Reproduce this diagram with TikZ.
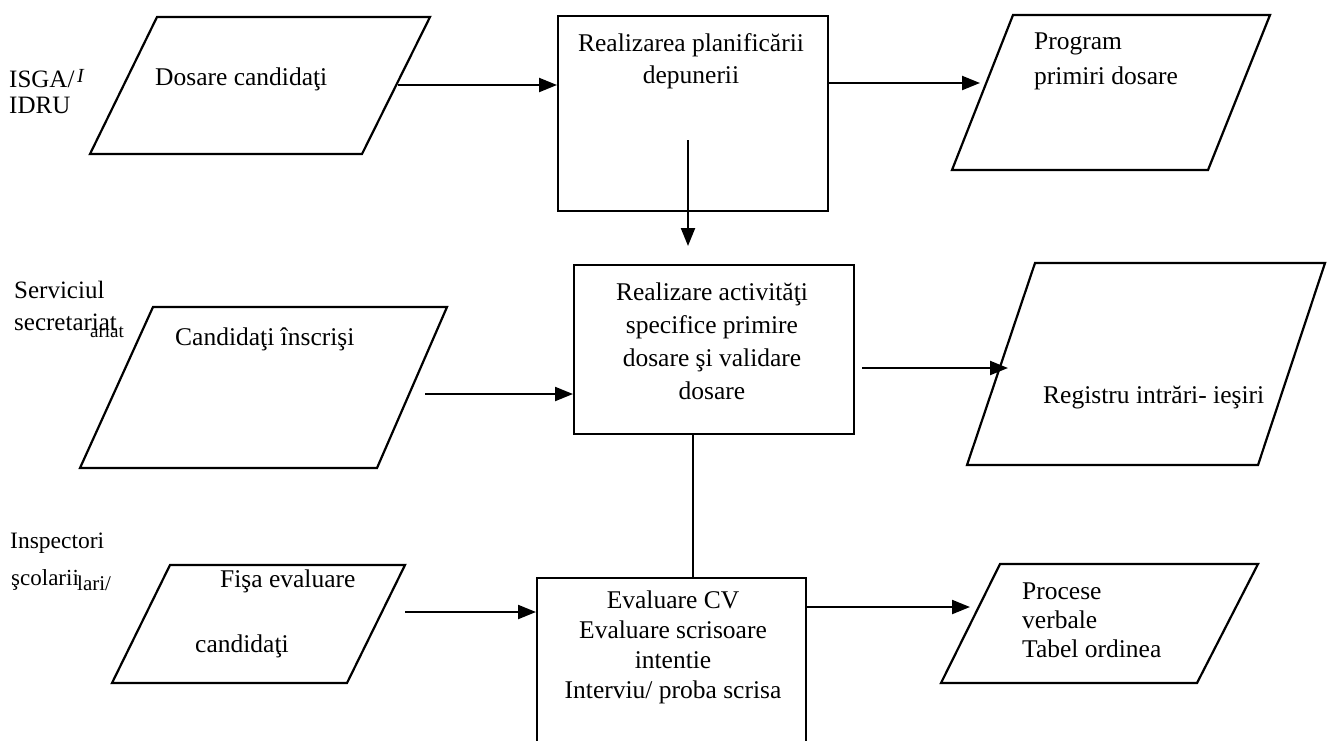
\documentclass[tikz,border=0pt]{standalone}
\usepackage{fontspec}
\setmainfont{Liberation Serif}
\usetikzlibrary{arrows.meta}
\begin{document}
\begin{tikzpicture}[x=1pt,y=-1pt,
  line/.style={line width=2.2pt, line join=miter},
  arr/.style={line width=2.2pt,-{Triangle[length=18pt,width=14pt]}},
  box/.style={draw, line width=2.2pt, anchor=north west, inner sep=0pt},
  txt/.style={font=\fontsize{25.5}{32}\selectfont, inner sep=0pt},
  lbl/.style={font=\fontsize{25}{27}\selectfont, inner sep=0pt, anchor=west}]
\useasboundingbox (0,0) rectangle (1327,740);
\fill[white] (0,0) rectangle (1327,740);
\clip (0,0) rectangle (1327,740);

% process boxes
\node[box, minimum width=270pt, minimum height=195pt] (b1) at (557,15) {};
\node[box, minimum width=280pt, minimum height=169pt] (b3) at (573,264) {};
\node[box, minimum width=269pt, minimum height=200pt] (b4) at (536,577) {};

% parallelograms
\draw[line] (157,17) -- (430,17) -- (362,154) -- (90,154) -- cycle;
\draw[line] (1013,15) -- (1270,15) -- (1208,170) -- (952,170) -- cycle;
\draw[line] (153,307) -- (447,307) -- (377,468) -- (80,468) -- cycle;
\draw[line] (1035,263) -- (1325,263) -- (1258,465) -- (967,465) -- cycle;
\draw[line] (170,565) -- (405,565) -- (347,683) -- (112,683) -- cycle;
\draw[line] (1000,564) -- (1258,564) -- (1197,683) -- (941,683) -- cycle;

% connector end points
\coordinate (p1out) at (398,85);
\coordinate (p2in) at (980,83);
\coordinate (d1) at (688,140);
\coordinate (d2) at (688,246);
\coordinate (p3out) at (425,394);
\coordinate (b3out) at (862,368);
\coordinate (p4in) at (1008,368);
\coordinate (c3) at (693,0);
\coordinate (p5out) at (405,612);
\coordinate (p6in) at (970,607);

% connectors
\draw[arr] (p1out) -- (b1.west |- p1out);
\draw[arr] (b1.east |- p2in) -- (p2in);
\draw[arr] (d1) -- (d2);
\draw[arr] (p3out) -- (b3.west |- p3out);
\draw[arr] (b3out) -- (p4in);
\draw[line] (b3.south -| c3) -- (b4.north -| c3);
\draw[arr] (p5out) -- (b4.west |- p5out);
\draw[arr] (b4.east |- p6in) -- (p6in);

% box texts
\node[txt, align=center] (t1) at (691,61) {Realizarea planificării\\depunerii};
\node[txt, align=center, font=\fontsize{25.5}{33}\selectfont] (t3) at (712,341) {Realizare activităţi\\specifice primire\\dosare şi validare\\dosare};
\node[txt, align=center, font=\fontsize{25.5}{30}\selectfont] (t4) at (673,647) {Evaluare CV\\Evaluare scrisoare\\intentie\\Interviu/ proba scrisa};

% parallelogram texts
\node[txt, anchor=west] (pt1) at (155,79) {Dosare candidaţi};
\node[txt, anchor=west, align=left, font=\fontsize{25.5}{35}\selectfont] (pt2) at (1034,61) {Program\\primiri dosare};
\node[txt, anchor=west] (pt3) at (175,339) {Candidaţi înscrişi};
\node[txt, anchor=west] (pt4) at (1043,398) {Registru intrări- ieşiri};
\node[txt, anchor=west] (pt5a) at (220,581) {Fişa evaluare};
\node[txt, anchor=west] (pt5b) at (195,646) {candidaţi};
\node[txt, anchor=west, align=left, font=\fontsize{25.5}{29}\selectfont] (pt6) at (1022,620) {Procese\\verbale\\Tabel ordinea};

% lane labels
\node[lbl] (l1) at (9,79) {ISGA/};
\node[lbl, font=\fontsize{20}{20}\selectfont\itshape] (l1x) at (77,76) {I};
\node[lbl] (l2) at (9,105) {IDRU};
\node[lbl] (l3) at (14,290) {Serviciul};
\node[lbl] (l4) at (14,322) {secretariat};
\node[lbl, font=\fontsize{19}{19}\selectfont] (l4b) at (90,331) {ariat};
\node[lbl, font=\fontsize{23.5}{24}\selectfont] (l5) at (10,543) {Inspectori};
\node[lbl, font=\fontsize{23}{24}\selectfont] (l6) at (11,580) {şcolarii};
\node[lbl, font=\fontsize{21}{21}\selectfont] (l6b) at (77,583) {lari/};
\end{tikzpicture}
\end{document}
